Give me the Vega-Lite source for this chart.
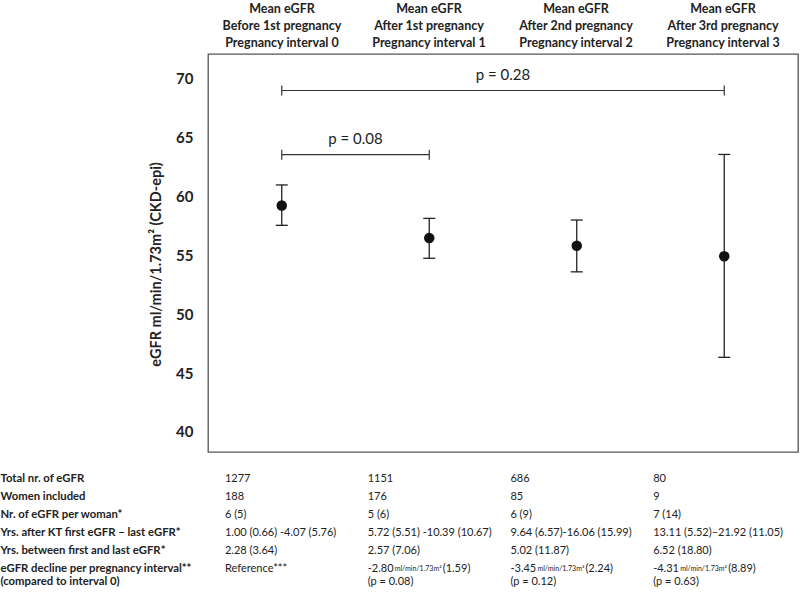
{
  "$schema": "https://vega.github.io/schema/vega-lite/v6.json",
  "background": "white",
  "padding": {"left": 0, "top": 0, "right": 0, "bottom": 0},
  "config": {"font": "Lato", "view": {"stroke": null}},
  "bounds": "flush",
  "spacing": 3,
  "datasets": {
    "headers": [
      {"interval": 0, "line": 1, "text": "Mean eGFR"},
      {"interval": 0, "line": 2, "text": "Before 1st pregnancy"},
      {"interval": 0, "line": 3, "text": "Pregnancy interval 0"},
      {"interval": 1, "line": 1, "text": "Mean eGFR"},
      {"interval": 1, "line": 2, "text": "After 1st pregnancy"},
      {"interval": 1, "line": 3, "text": "Pregnancy interval 1"},
      {"interval": 2, "line": 1, "text": "Mean eGFR"},
      {"interval": 2, "line": 2, "text": "After 2nd pregnancy"},
      {"interval": 2, "line": 3, "text": "Pregnancy interval 2"},
      {"interval": 3, "line": 1, "text": "Mean eGFR"},
      {"interval": 3, "line": 2, "text": "After 3rd pregnancy"},
      {"interval": 3, "line": 3, "text": "Pregnancy interval 3"}
    ],
    "points": [
      {"interval": 0, "mean": 59.24, "lo": 57.55, "hi": 60.98},
      {"interval": 1, "mean": 56.48, "lo": 54.75, "hi": 58.14},
      {"interval": 2, "mean": 55.82, "lo": 53.6, "hi": 58.0},
      {"interval": 3, "mean": 54.92, "lo": 46.34, "hi": 63.57}
    ],
    "brackets": [
      {"from": 0, "to": 3, "mid": 1.5, "y": 69.0, "label": "p = 0.28"},
      {"from": 0, "to": 1, "mid": 0.5, "y": 63.55, "label": "p = 0.08"}
    ],
    "table": [
      {"row": "Total nr. of eGFR", "col": 0, "text": "1277"},
      {"row": "Total nr. of eGFR", "col": 1, "text": "1151"},
      {"row": "Total nr. of eGFR", "col": 2, "text": "686"},
      {"row": "Total nr. of eGFR", "col": 3, "text": "80"},
      {"row": "Women included", "col": 0, "text": "188"},
      {"row": "Women included", "col": 1, "text": "176"},
      {"row": "Women included", "col": 2, "text": "85"},
      {"row": "Women included", "col": 3, "text": "9"},
      {"row": "Nr. of eGFR per woman*", "col": 0, "text": "6 (5)"},
      {"row": "Nr. of eGFR per woman*", "col": 1, "text": "5 (6)"},
      {"row": "Nr. of eGFR per woman*", "col": 2, "text": "6 (9)"},
      {"row": "Nr. of eGFR per woman*", "col": 3, "text": "7 (14)"},
      {"row": "Yrs. after KT first eGFR – last eGFR*", "col": 0, "text": "1.00 (0.66) -4.07 (5.76)"},
      {"row": "Yrs. after KT first eGFR – last eGFR*", "col": 1, "text": "5.72 (5.51) -10.39 (10.67)"},
      {"row": "Yrs. after KT first eGFR – last eGFR*", "col": 2, "text": "9.64 (6.57)-16.06 (15.99)"},
      {"row": "Yrs. after KT first eGFR – last eGFR*", "col": 3, "text": "13.11 (5.52)–21.92 (11.05)"},
      {"row": "Yrs. between first and last eGFR*", "col": 0, "text": "2.28 (3.64)"},
      {"row": "Yrs. between first and last eGFR*", "col": 1, "text": "2.57 (7.06)"},
      {"row": "Yrs. between first and last eGFR*", "col": 2, "text": "5.02 (11.87)"},
      {"row": "Yrs. between first and last eGFR*", "col": 3, "text": "6.52 (18.80)"},
      {"row": "eGFR decline per pregnancy interval**|(compared to interval 0)", "col": 0, "text": "Reference***"},
      {"row": "eGFR decline per pregnancy interval**|(compared to interval 0)", "col": 1, "text": "-2.80", "unit": "ml/min/1.73m²", "sd": "(1.59)", "p": "(p = 0.08)"},
      {"row": "eGFR decline per pregnancy interval**|(compared to interval 0)", "col": 2, "text": "-3.45", "unit": "ml/min/1.73m²", "sd": "(2.24)", "p": "(p = 0.12)"},
      {"row": "eGFR decline per pregnancy interval**|(compared to interval 0)", "col": 3, "text": "-4.31", "unit": "ml/min/1.73m²", "sd": "(8.89)", "p": "(p = 0.63)"}
    ]
  },
  "vconcat": [
    {
      "width": 590,
      "height": 51,
      "data": {"name": "headers"},
      "mark": {"type": "text", "fontSize": 12.5, "fontWeight": "bold", "baseline": "middle", "align": "center", "color": "#222"},
      "encoding": {
        "x": {"field": "interval", "type": "quantitative", "scale": {"domain": [-0.503, 3.51]}, "axis": null},
        "y": {"field": "line", "type": "ordinal", "scale": {"type": "band", "paddingInner": 0, "paddingOuter": 0}, "axis": null},
        "text": {"field": "text"}
      }
    },
    {
      "width": 590,
      "height": 398,
      "view": {"stroke": "#555555", "strokeWidth": 1.3},
      "layer": [
        {
          "data": {"name": "points"},
          "mark": {"type": "rule", "color": "#222", "strokeWidth": 1.3},
          "encoding": {
            "x": {"field": "interval", "type": "quantitative", "scale": {"domain": [-0.46, 3.465]}, "axis": null},
            "y": {
              "field": "lo", "type": "quantitative",
              "scale": {"domain": [38.3, 72.1], "nice": false, "zero": false},
              "axis": {
                "values": [40, 45, 50, 55, 60, 65, 70],
                "ticks": false, "tickSize": 0, "domain": false, "grid": false,
                "labelFontSize": 15, "labelFontWeight": "bold", "labelPadding": 15, "labelColor": "#222",
                "title": "eGFR ml/min/1.73m² (CKD-epi)",
                "titleFontSize": 14.5, "titleFontWeight": "bold", "titlePadding": 12, "titleColor": "#222",
                "titleY": 210
              }
            },
            "y2": {"field": "hi"}
          }
        },
        {
          "data": {"name": "points"},
          "mark": {"type": "tick", "orient": "horizontal", "size": 12, "thickness": 1.3, "color": "#222", "opacity": 1},
          "encoding": {
            "x": {"field": "interval", "type": "quantitative"},
            "y": {"field": "lo", "type": "quantitative"}
          }
        },
        {
          "data": {"name": "points"},
          "mark": {"type": "tick", "orient": "horizontal", "size": 12, "thickness": 1.3, "color": "#222", "opacity": 1},
          "encoding": {
            "x": {"field": "interval", "type": "quantitative"},
            "y": {"field": "hi", "type": "quantitative"}
          }
        },
        {
          "data": {"name": "points"},
          "mark": {"type": "circle", "size": 110, "color": "#111", "opacity": 1},
          "encoding": {
            "x": {"field": "interval", "type": "quantitative"},
            "y": {"field": "mean", "type": "quantitative"}
          }
        },
        {
          "data": {"name": "brackets"},
          "mark": {"type": "rule", "color": "#333", "strokeWidth": 1.2},
          "encoding": {
            "x": {"field": "from", "type": "quantitative"},
            "x2": {"field": "to"},
            "y": {"field": "y", "type": "quantitative"}
          }
        },
        {
          "data": {"name": "brackets"},
          "mark": {"type": "tick", "orient": "vertical", "size": 10, "thickness": 1.2, "color": "#333", "opacity": 1},
          "encoding": {
            "x": {"field": "from", "type": "quantitative"},
            "y": {"field": "y", "type": "quantitative"}
          }
        },
        {
          "data": {"name": "brackets"},
          "mark": {"type": "tick", "orient": "vertical", "size": 10, "thickness": 1.2, "color": "#333", "opacity": 1},
          "encoding": {
            "x": {"field": "to", "type": "quantitative"},
            "y": {"field": "y", "type": "quantitative"}
          }
        },
        {
          "data": {"name": "brackets"},
          "mark": {"type": "text", "fontSize": 15, "baseline": "middle", "align": "center", "dy": -16, "color": "#222"},
          "encoding": {
            "x": {"field": "mid", "type": "quantitative"},
            "y": {"field": "y", "type": "quantitative"},
            "text": {"field": "label"}
          }
        }
      ]
    },
    {
      "width": 590,
      "height": 123,
      "data": {"name": "table"},
      "encoding": {
        "x": {"field": "col", "type": "quantitative", "scale": {"domain": [-0.119, 4.015]}, "axis": null},
        "y": {
          "field": "row", "type": "nominal",
          "sort": ["Total nr. of eGFR", "Women included", "Nr. of eGFR per woman*", "Yrs. after KT first eGFR – last eGFR*", "Yrs. between first and last eGFR*", "eGFR decline per pregnancy interval**|(compared to interval 0)"],
          "scale": {"type": "band", "paddingInner": 0, "paddingOuter": 0.42, "align": 1},
          "axis": {
            "title": null, "ticks": false, "tickSize": 0, "domain": false, "grid": false,
            "labelAlign": "left", "labelBaseline": "middle", "labelPadding": 208, "labelLimit": 400,
            "labelFontSize": 11.3, "labelFontWeight": "bold", "labelColor": "#222", "labelLineHeight": 13,
            "labelExpr": "split(datum.label, '|')"
          }
        }
      },
      "layer": [
        {
          "mark": {"type": "text", "align": "left", "baseline": "middle", "fontSize": 11, "color": "#222"},
          "encoding": {"text": {"field": "text"}}
        },
        {
          "transform": [{"filter": "datum.unit"}],
          "mark": {"type": "text", "align": "left", "baseline": "middle", "fontSize": 7, "dx": 27, "color": "#222"},
          "encoding": {"text": {"field": "unit"}}
        },
        {
          "transform": [{"filter": "datum.sd"}],
          "mark": {"type": "text", "align": "left", "baseline": "middle", "fontSize": 11, "dx": 75, "color": "#222"},
          "encoding": {"text": {"field": "sd"}}
        },
        {
          "transform": [{"filter": "datum.p"}],
          "mark": {"type": "text", "align": "left", "baseline": "middle", "fontSize": 11, "dy": 13, "color": "#222"},
          "encoding": {"text": {"field": "p"}}
        }
      ]
    }
  ]
}
